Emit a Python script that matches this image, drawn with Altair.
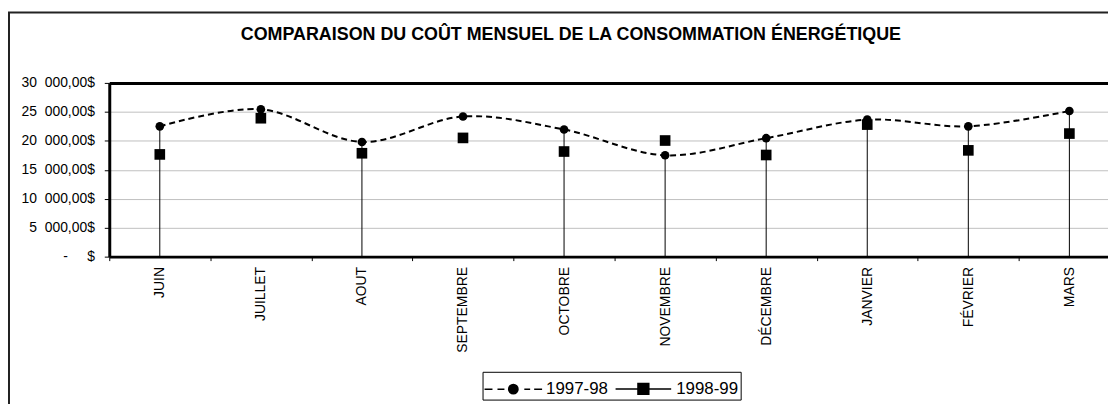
import altair as alt
import pandas as pd

# ---- data ----
months = ["JUIN", "JUILLET", "AOUT", "SEPTEMBRE", "OCTOBRE",
          "NOVEMBRE", "DÉCEMBRE", "JANVIER", "FÉVRIER", "MARS"]
cost_1997_98 = [22500, 25450, 19800, 24200, 21950, 17500, 20450, 23650, 22500, 25150]
cost_1998_99 = [17650, 23900, 17850, 20500, 18150, 20050, 17550, 22800, 18350, 21250]
drop_line = [True, False, True, False, True, True, True, True, True, True]
series_names = ["1997-98", "1998-99"]
y_ticks = [0, 5000, 10000, 15000, 20000, 25000, 30000]
title_text = "COMPARAISON DU COÛT MENSUEL DE LA CONSOMMATION ÉNERGÉTIQUE"

FONT = "Liberation Sans, Arial, sans-serif"
W, H = 1006, 175
X_RANGE = [0, 1018]

wide = pd.DataFrame({"mois": months, "a": cost_1997_98, "b": cost_1998_99,
                     "drop": drop_line})
long = pd.concat([
    pd.DataFrame({"mois": months, "serie": series_names[0], "cout": cost_1997_98}),
    pd.DataFrame({"mois": months, "serie": series_names[1], "cout": cost_1998_99}),
])

x_scale = alt.Scale(type="band", domain=months, range=X_RANGE,
                    paddingInner=0, paddingOuter=0)
y_scale = alt.Scale(domain=[0, 30000], nice=False)

NB = "\u00a0"
label_expr = (
    "datum.value == 0 ? '-" + NB * 5 + "$' : "
    "replace(replace(format(datum.value, ',.2f'), ',', '" + NB * 2 + "'), '.', ',') + '$'"
)

x_bottom = alt.X("mois:N", sort=months, scale=x_scale,
                 axis=alt.Axis(title=None, orient="bottom", labelAngle=270,
                               labelAlign="right", labelBaseline="middle",
                               labelFontSize=14, labelColor="black", labelFont=FONT,
                               labelPadding=6, tickBand="extent", tickSize=4,
                               tickColor="black", domainColor="black",
                               domainWidth=3, grid=False))
x_top = alt.X("mois:N", sort=months, scale=x_scale,
              axis=alt.Axis(title=None, orient="top", labels=False, ticks=False,
                            domainColor="black", domainWidth=3, grid=False))
x_none = alt.X("mois:N", sort=months, scale=x_scale, axis=None)

y_axis = alt.Axis(title=None, values=y_ticks, labelExpr=label_expr,
                  labelFontSize=14, labelColor="black", labelFont=FONT,
                  labelPadding=10, tickSize=5, tickColor="black",
                  domainColor="black", domainWidth=3,
                  grid=True, gridColor="#c0c0c0", gridWidth=1)

base = alt.Chart(wide)

drops = base.mark_rule(color="black", strokeWidth=1).encode(
    x=x_top,
    y=alt.Y("a:Q", scale=y_scale, axis=None),
    y2=alt.datum(0),
).transform_filter("datum.drop")

line = base.mark_line(color="black", strokeWidth=2, strokeDash=[6, 4],
                      interpolate="cardinal").encode(
    x=x_none, y=alt.Y("a:Q", scale=y_scale, axis=None))

circles = base.mark_point(shape="circle", filled=True, size=76, color="black",
                          opacity=1).encode(
    x=x_bottom, y=alt.Y("a:Q", scale=y_scale, axis=y_axis))

squares = base.mark_point(shape="square", filled=True, size=115, color="black",
                          opacity=1).encode(
    x=x_none, y=alt.Y("b:Q", scale=y_scale, axis=None))

# legend symbols: line + (solid) marker drawn as stroked custom paths
circle_fill = ("M-0.2,-0.27H0.2M-0.284,-0.18H0.284M-0.324,-0.09H0.324M-0.336,0H0.336"
               "M-0.324,0.09H0.324M-0.284,0.18H0.284M-0.2,0.27H0.2")
path_a = ("M-2.07,0H-1.5M-1.14,0H-0.64M0.79,0H1.21M1.5,0H2.07"
          "M-0.336,0A0.336,0.336,0,1,1,0.336,0A0.336,0.336,0,1,1,-0.336,0Z" + circle_fill)
square_fill = "".join(
    "M-0.39,{0:.4f}H0.39".format(-0.39 + k * 0.0975) for k in range(9))
path_b = "M-2.0,0H2.0M-0.39,-0.39H0.39V0.39H-0.39Z" + square_fill

legend_layer = alt.Chart(long).mark_point(
    filled=False, color="black", strokeWidth=1.5, opacity=1
).encode(
    shape=alt.Shape("serie:N",
                    scale=alt.Scale(domain=series_names, range=[path_a, path_b]),
                    legend=alt.Legend(title=None, orient="none", legendX=376, legendY=291,
                                      direction="horizontal", strokeColor="black",
                                      padding=2, labelFontSize=17, labelFont=FONT,
                                      labelColor="black", symbolSize=784,
                                      symbolFillColor="black", symbolStrokeColor="black",
                                      symbolStrokeWidth=1.5, symbolOffset=14,
                                      labelOffset=18, columnPadding=4)),
).transform_filter("false")

frame = alt.Chart(pd.DataFrame({"k": [0]})).mark_rect(
    filled=False, stroke="#222222", strokeWidth=2).encode(
    x=alt.value(-101), x2=alt.value(W + 60), y=alt.value(-71), y2=alt.value(H + 220))

chart = alt.layer(frame, drops, line, circles, squares, legend_layer).resolve_axis(
    x="independent", y="independent"
).properties(
    width=W, height=H,
    title=alt.Title(title_text, fontSize=18, fontWeight="bold", font=FONT,
                    color="black", anchor="middle", frame="group", dx=-38,
                    offset=-47, baseline="alphabetic"),
    autosize=alt.AutoSizeParams(type="none"),
    padding={"left": 102, "top": 74, "right": 0, "bottom": 147},
).configure_view(fill="#e4e4e4", strokeOpacity=0).configure(
    font=FONT, background="white")

chart.save("out.html", embed_options={"renderer": "svg", "actions": False})
